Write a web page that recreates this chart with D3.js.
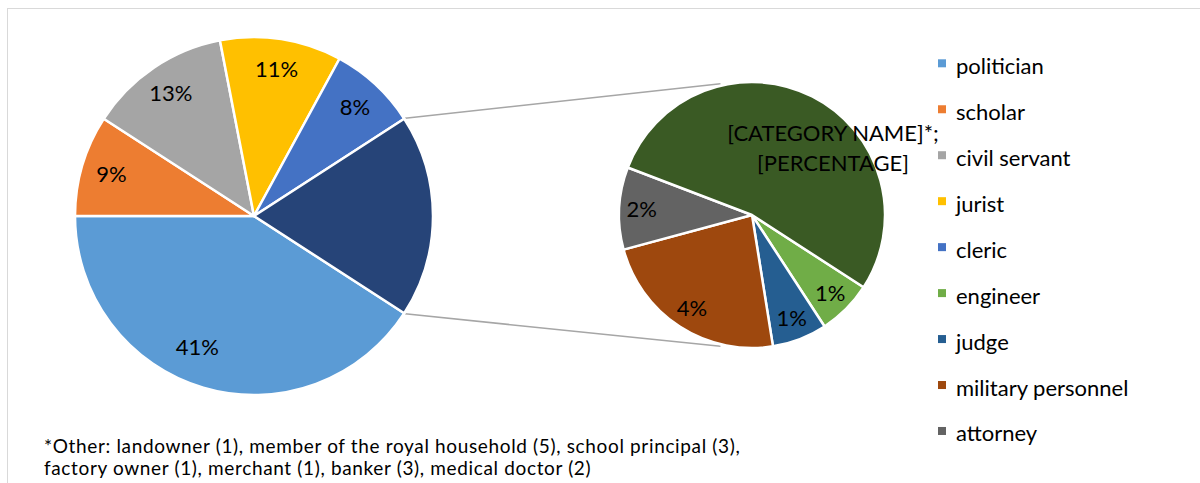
<!DOCTYPE html>
<html>
<head>
<meta charset="utf-8">
<script src="https://cdn.jsdelivr.net/npm/d3@7"></script>
<style>
  body { margin: 0; background: #fff; }
  svg { display: block; }
  text { font-family: Lato, "Open Sans", sans-serif; fill: #000; }
</style>
</head>
<body>
<svg id="chart" width="1200" height="483"></svg>
<script>
// Occupations (counts of persons) — primary pie
const primaryCategories = ["politician", "scholar", "civil servant", "jurist", "cleric"];
const primaryCounts = [67, 15, 21, 18, 13];

// Occupations split out into the secondary pie
const secondaryCategories = ["engineer", "judge", "military personnel", "attorney"];
const secondaryCounts = [2, 2, 7, 3];

// "Other" group, broken down in the footnote
const otherParts = ["landowner", "member of the royal household", "school principal",
                    "factory owner", "merchant", "banker", "medical doctor"];
const otherPartCounts = [1, 5, 3, 1, 1, 3, 2];
const otherLabelLines = ["[CATEGORY NAME]*;", "[PERCENTAGE]"];

const footnoteLines = [
  "*Other: landowner (1), member of the royal household (5), school principal (3),",
  "factory owner (1), merchant (1), banker (3), medical doctor (2)"
];

const primaryColors = ["#5B9BD5", "#ED7D31", "#A5A5A5", "#FFC000", "#4472C4"];
const groupColor = "#264478";
const secondaryColors = ["#70AD47", "#255E91", "#9E480E", "#636363"];
const otherColor = "#3A5A24";

// ---- derived values ----
const otherCount = d3.sum(otherPartCounts);
const groupCount = d3.sum(secondaryCounts) + otherCount;
const total = d3.sum(primaryCounts) + groupCount;
const pct = d3.format(".0%");

const svg = d3.select("#chart");

// chart frame
svg.append("rect")
  .attr("x", 7.5).attr("y", 8.5)
  .attr("width", 1300).attr("height", 600)
  .attr("fill", "none").attr("stroke", "#D9D9D9").attr("stroke-width", 1);

// geometry
const main = { cx: 254, cy: 216, r: 179 };
const sec  = { cx: 752, cy: 215, r: 133 };

// the grouped slice is centred on the 3 o'clock direction
const groupSpan = 2 * Math.PI * groupCount / total;
const startAngle = Math.PI / 2 + groupSpan / 2;

const mainData = primaryCounts.map((v, i) => ({ name: primaryCategories[i], value: v, color: primaryColors[i], label: true }))
  .concat([{ name: "Other group", value: groupCount, color: groupColor, label: false }]);

const secData = secondaryCounts.map((v, i) => ({ name: secondaryCategories[i], value: v, color: secondaryColors[i], other: false }))
  .concat([{ name: "Other", value: otherCount, color: otherColor, other: true }]);

const pie = d3.pie().sort(null).value(d => d.value)
  .startAngle(startAngle).endAngle(startAngle + 2 * Math.PI);

const mainArcs = pie(mainData);
const secArcs = pie(secData);

// connector lines from the grouped slice to the secondary pie
const groupArc = mainArcs[mainArcs.length - 1];
const pt = (c, r, a) => [c.cx + r * Math.sin(a), c.cy - r * Math.cos(a)];
const tilt = 13.5 * Math.PI / 180;
const connectors = [
  [pt(main, main.r + 1, groupArc.startAngle), pt(sec, sec.r + 2, -tilt)],
  [pt(main, main.r + 1, groupArc.endAngle), pt(sec, sec.r + 2, Math.PI + tilt)]
];
svg.append("g").selectAll("line").data(connectors).join("line")
  .attr("x1", d => d[0][0]).attr("y1", d => d[0][1])
  .attr("x2", d => d[1][0]).attr("y2", d => d[1][1])
  .attr("stroke", "#A6A6A6").attr("stroke-width", 1.5);

// primary pie
const mainArc = d3.arc().innerRadius(0).outerRadius(main.r);
const mainLabelArc = d3.arc().innerRadius(main.r * 0.83).outerRadius(main.r * 0.83);
const gMain = svg.append("g").attr("transform", `translate(${main.cx},${main.cy})`);
gMain.selectAll("path").data(mainArcs).join("path")
  .attr("d", mainArc)
  .attr("fill", d => d.data.color)
  .attr("stroke", "#fff").attr("stroke-width", 2.5).attr("stroke-linejoin", "round");
gMain.selectAll("text").data(mainArcs.filter(d => d.data.label)).join("text")
  .attr("transform", d => {
    // the large slice's label sits a little further round, away from the edge
    const c = d.data.value / total > 0.3
      ? d3.arc().innerRadius(main.r * 0.8).outerRadius(main.r * 0.8)
          .centroid({ startAngle: d.startAngle + 0.12, endAngle: d.endAngle + 0.12 })
      : mainLabelArc.centroid(d);
    return `translate(${c})`;
  })
  .attr("text-anchor", "middle").attr("dy", "0.36em")
  .style("font-size", "22px")
  .text(d => pct(d.data.value / total));

// secondary pie
const secArc = d3.arc().innerRadius(0).outerRadius(sec.r);
const secLabelArc = d3.arc().innerRadius(sec.r * 0.83).outerRadius(sec.r * 0.83);
const gSec = svg.append("g").attr("transform", `translate(${sec.cx},${sec.cy})`);
gSec.selectAll("path").data(secArcs).join("path")
  .attr("d", secArc)
  .attr("fill", d => d.data.color)
  .attr("stroke", "#fff").attr("stroke-width", 2.5).attr("stroke-linejoin", "round");
gSec.selectAll("text.val").data(secArcs.filter(d => !d.data.other)).join("text")
  .attr("class", "val")
  .attr("transform", d => `translate(${secLabelArc.centroid(d)})`)
  .attr("text-anchor", "middle").attr("dy", "0.36em")
  .style("font-size", "22px")
  .text(d => pct(d.data.value / total));

// label of the "Other" slice
const otherLabel = gSec.append("text")
  .attr("text-anchor", "middle")
  .attr("transform", "translate(81,-74)")
  .style("font-size", "22px");
otherLabel.selectAll("tspan").data(otherLabelLines).join("tspan")
  .attr("x", 0).attr("y", (d, i) => i * 30)
  .text(d => d);

// legend
const legendNames = primaryCategories.concat(secondaryCategories);
const legendColors = primaryColors.concat(secondaryColors);
const legend = svg.append("g").attr("transform", "translate(938,63.3)");
const rows = legend.selectAll("g").data(legendNames).join("g")
  .attr("transform", (d, i) => `translate(0,${i * 45.96})`);
rows.append("rect")
  .attr("x", 0).attr("y", -4).attr("width", 8).attr("height", 8)
  .attr("fill", (d, i) => legendColors[i]);
rows.append("text")
  .attr("x", 18).attr("y", 10.5)
  .style("font-size", "22px")
  .text(d => d);

// footnote
svg.append("g").selectAll("text").data(footnoteLines).join("text")
  .attr("x", 44).attr("y", (d, i) => 453 + i * 22)
  .style("font-size", "19px")
  .style("letter-spacing", "0.65px")
  .text(d => d);
</script>
</body>
</html>
